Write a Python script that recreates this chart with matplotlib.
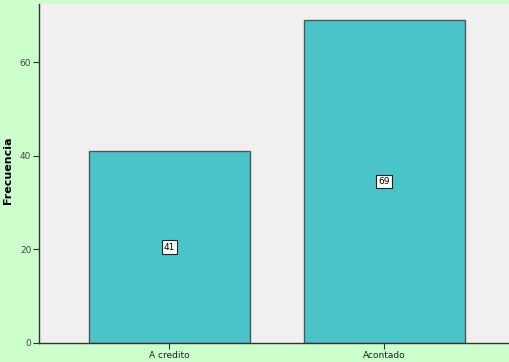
import matplotlib
matplotlib.use("Agg")
import matplotlib.pyplot as plt

categories = ["A credito", "Acontado"]
values = [41, 69]
yticks = [0, 20, 40, 60]

W, H = 510, 362
fig = plt.figure(figsize=(W/100, H/100), dpi=100)
fig.patch.set_facecolor("#CCFFCC")
left, right, top, bottom = 39, 510, 4, 343
ax = fig.add_axes([left/W, 1 - bottom/H, (right-left)/W, (bottom-top)/H])
ax.set_facecolor("#F0F0F0")

x = list(range(len(categories)))
bars = ax.bar(x, values, width=0.749, color="#4AC4C8", edgecolor="#4a5a5a", linewidth=1.0, zorder=2)
for xi, v in zip(x, values):
    ax.text(xi, v/2, str(v), ha="center", va="center", fontsize=6.5, color="black",
            bbox=dict(boxstyle="square,pad=0.25", facecolor="white", edgecolor="#222222", linewidth=0.8), zorder=3)

ax.set_xlim(-0.607, 1.584)
ax.set_ylim(0, 72.4)
ax.set_xticks(x)
ax.set_xticklabels(categories, fontsize=6.5, color="#222222")
ax.set_yticks(yticks)
ax.set_yticklabels([str(t) for t in yticks], fontsize=6.5, color="#444444")
ax.tick_params(axis="both", length=4, width=0.8, color="#333333", pad=1.5)
for s in ["top", "right"]:
    ax.spines[s].set_visible(False)
for s in ["left", "bottom"]:
    ax.spines[s].set_color("#333333")
    ax.spines[s].set_linewidth(1.0)
fig.text(8/W, 1 - 170/H, "Frecuencia", rotation=90, ha="center", va="center",
         fontsize=8, fontweight="bold")

fig.savefig("out.png", dpi=100, facecolor=fig.get_facecolor())
